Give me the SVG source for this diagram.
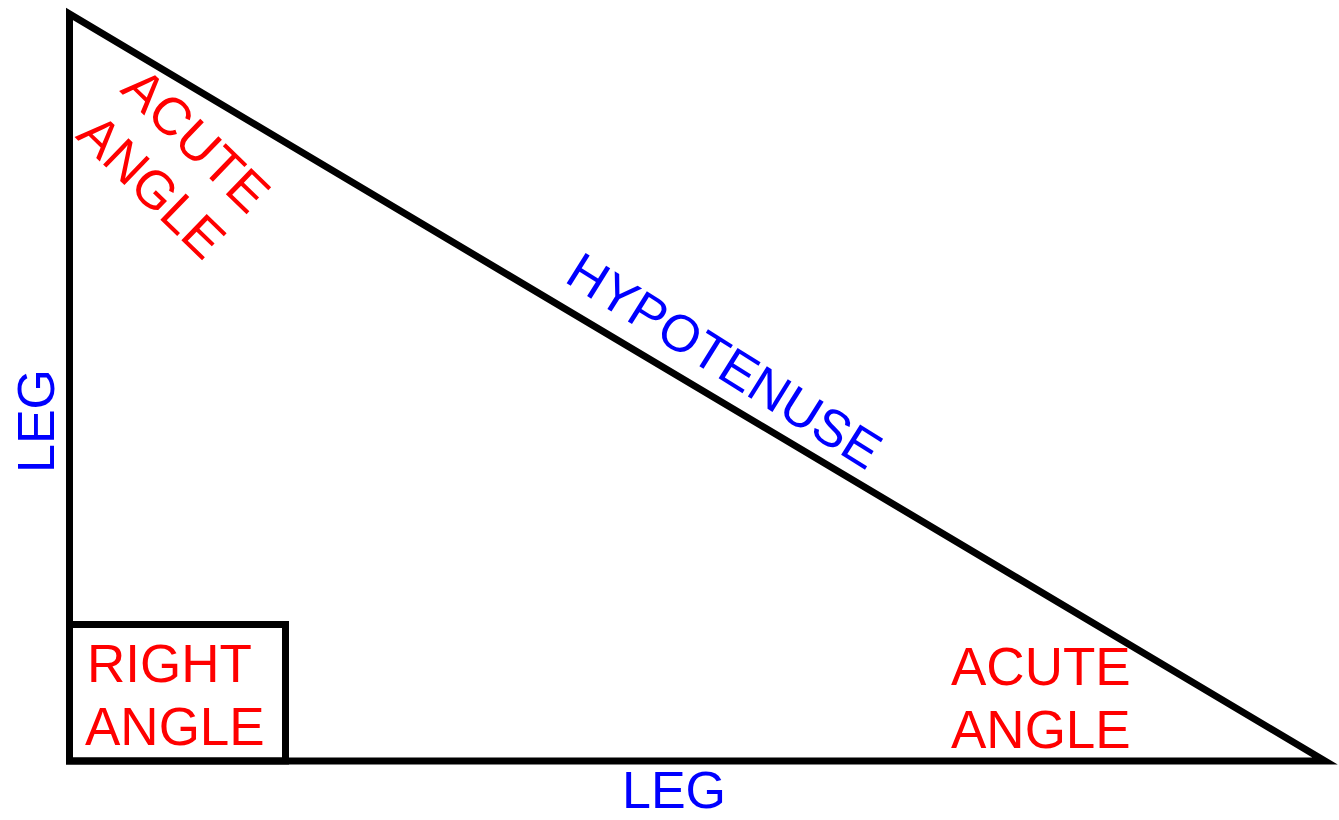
<svg xmlns="http://www.w3.org/2000/svg" width="1339" height="820" viewBox="0 0 1339 820">
<style>
.edge{fill:none;stroke:#000;stroke-width:7;stroke-linejoin:miter}
.red{fill:#ff0000;font-family:"Liberation Sans",Arial,sans-serif;font-size:53px}
.blue{fill:#0000ff;font-family:"Liberation Sans",Arial,sans-serif;font-size:52px}
</style>
<rect width="1339" height="820" fill="#fff"/>
<g id="connectors">
<path id="triangle" class="edge" d="M69.5,14 L69.5,761 L1325,761 Z"/>
<rect id="right-angle-box" class="edge" x="69.5" y="624.5" width="216" height="136.5"/>
</g>
<g id="right-angle"><text class="red" x="87" y="682">RIGHT</text><text class="red" x="85" y="745">ANGLE</text></g>
<g id="acute-angle-bottom"><text class="red" x="951" y="685">ACUTE</text><text class="red" x="951" y="748">ANGLE</text></g>
<g id="acute-angle-top"><g transform="translate(119,91) rotate(44)"><text class="red" x="0" y="0" font-size="51">ACUTE</text><text class="red" x="0" y="64" font-size="51">ANGLE</text></g></g>
<g id="hypotenuse"><text class="blue" transform="translate(563,281) rotate(32)" font-size="50">HYPOTENUSE</text></g>
<g id="leg-left"><text class="blue" transform="translate(54,473) rotate(-90)">LEG</text></g>
<g id="leg-bottom"><text class="blue" x="622" y="808">LEG</text></g>
</svg>
